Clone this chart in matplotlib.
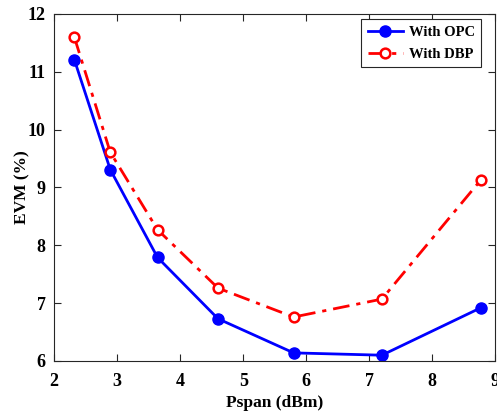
import numpy as np
import matplotlib.pyplot as plt

plt.rcParams['font.family'] = ['Liberation Serif', 'DejaVu Serif']
plt.rcParams['font.weight'] = 'bold'

pspan = [2.32, 2.89, 3.64, 4.60, 5.80, 7.20, 8.77]
evm_opc = [11.21, 9.31, 7.79, 6.73, 6.14, 6.10, 6.92]
evm_dbp = [11.60, 9.61, 8.27, 7.26, 6.76, 7.07, 9.13]

fig = plt.figure(figsize=(4.97, 4.11), dpi=100)
ax = fig.add_axes([0.109, 0.1217, 0.8876, 0.8443])

ax.plot(pspan, evm_opc, color="blue", lw=2.0, marker="o", markersize=8,
        label="With OPC")
ax.plot(pspan, evm_dbp, color="red", lw=2.0, ls=(0, (6, 2.5, 1.5, 2.5)),
        marker="o", markersize=7, markerfacecolor="white",
        markeredgewidth=1.8, label="With DBP")

ax.set_xlim(2, 9)
ax.set_ylim(6, 12)
ax.set_xticks(range(2, 10))
ax.set_yticks(range(6, 13))
ax.tick_params(direction="in", top=True, right=True, labelsize=13, length=5,
               color="#262626")
ax.tick_params(axis="x", pad=9)
ax.tick_params(axis="y", pad=6)
for s in ax.spines.values():
    s.set_color("#262626")
    s.set_linewidth(0.8)

ax.set_xlabel("Pspan (dBm)", fontsize=12.5, fontweight="bold", labelpad=3)
ax.set_ylabel("EVM (%)", fontsize=12.5, fontweight="bold", labelpad=-2)

leg = ax.legend(loc="upper right", bbox_to_anchor=(0.968, 0.985), fontsize=10.5,
                fancybox=False, framealpha=1, edgecolor="#262626",
                borderaxespad=0, handlelength=2.4, borderpad=0.45,
                labelspacing=0.6, handletextpad=0.4)
leg.get_frame().set_linewidth(0.8)

fig.savefig("out.png", dpi=100)
